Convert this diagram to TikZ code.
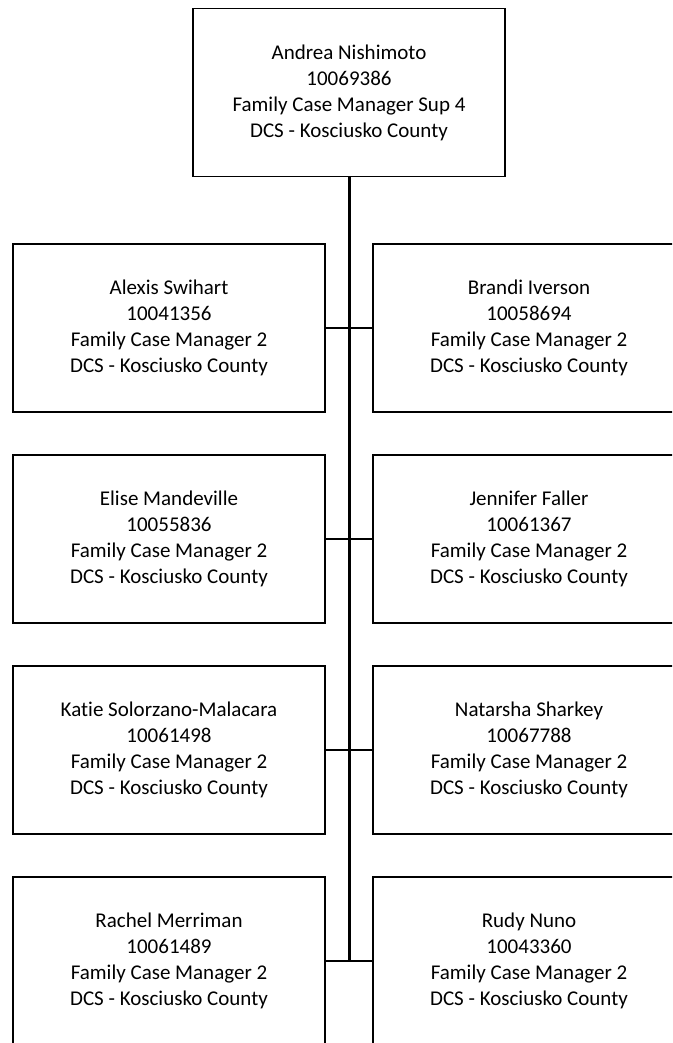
\documentclass[tikz,border=0pt]{standalone}
\usepackage{fontspec}
\setmainfont{Carlito}[Ligatures=CommonOff]
\tikzset{
	staffbox/.style={draw=black, line width=1.5pt, rectangle, minimum width=312pt, minimum height=168pt, inner sep=0pt, align=center, font=\fontsize{21}{26}\selectfont},
	trunk/.style={draw=black, line width=3pt},
	branch/.style={draw=black, line width=1.5pt}
}
% one box of the chart: name, x, y, person, number, title
\newcommand{\staffnode}[6]{
	\node [staffbox] (#1) at (#2 ,#3) {#4\\#5\\#6\\DCS - Kosciusko County};
}
\begin{document}
\begin{tikzpicture}[x=1pt, y=-1pt]
	\clip (0 ,0) rectangle (672 ,1043);
	
	\staffnode{top}{349}{92.5}{Andrea Nishimoto}{10069386}{Family Case Manager Sup 4}
	
	% left column
	\foreach \who/\num [count=\r from 1, evaluate=\r as \ypos using 117+211*\r] in {Alexis Swihart/10041356, Elise Mandeville/10055836, Katie Solorzano-Malacara/10061498, Rachel Merriman/10061489}{
		\staffnode{L\r}{169}{\ypos}{\who}{\num}{Family Case Manager 2}
	}
	% right column
	\foreach \who/\num [count=\r from 1, evaluate=\r as \ypos using 117+211*\r] in {Brandi Iverson/10058694, Jennifer Faller/10061367, Natarsha Sharkey/10067788, Rudy Nuno/10043360}{
		\staffnode{R\r}{529}{\ypos}{\who}{\num}{Family Case Manager 2}
	}
	
	\foreach \r in {1,...,4}{
		\draw [branch] (L\r.east) -- (R\r.west);
	}
	\draw [trunk] (top.south) -- (top.south |- L4.east);
\end{tikzpicture}
\end{document}
